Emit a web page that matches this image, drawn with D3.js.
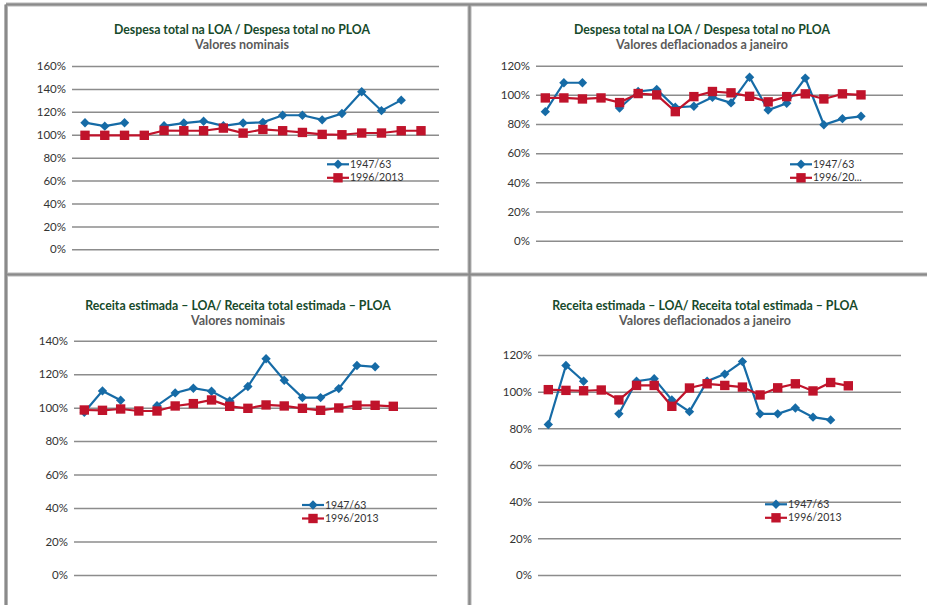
<!DOCTYPE html>
<html>
<head>
<meta charset="utf-8">
<script src="https://cdn.jsdelivr.net/npm/d3@7"></script>
<style>
  html, body { margin: 0; padding: 0; background: #fff; }
  svg { display: block; }
  text { font-family: Lato, "Open Sans", sans-serif; }
</style>
</head>
<body>
<svg id="chart" width="927" height="605"></svg>
<script>
// ---------- DATA ----------
const categories = ["1","2","3","4","5","6","7","8","9","10","11","12","13","14","15","16","17","18"];
const seriesNames = ["1947/63", "1996/2013"];

const despNom1947 = [110.5, 107.5, 110.5, null, 107.8, 110.2, 111.8, 107.8, 110.2, 110.8, 117, 117, 113, 118.5, 137.5, 121, 130.2, null];
const despNom1996 = [99.5, 99.5, 99.5, 99.5, 103.7, 103.5, 103.5, 105.8, 101.4, 104.6, 103.5, 102, 100.3, 100, 101.5, 101.5, 103.5, 103.5];

const despDef1947 = [88.5, 108.3, 108.3, null, 91, 102.3, 103.7, 91.5, 92.2, 98.4, 94.5, 112.1, 89.6, 94.2, 111.5, 79.5, 83.7, 85.3];
const despDef1996 = [97.9, 97.9, 97.2, 97.9, 94.7, 100.9, 100, 88.5, 98.8, 102.3, 101.4, 99, 95.2, 98.8, 100.7, 97.2, 100.7, 100];

const recNom1947 = [97.2, 110, 104.4, null, 101.2, 108.8, 111.6, 109.8, 104, 112.6, 129.2, 116.4, 106, 106, 111.4, 125.2, 124.4, null];
const recNom1996 = [98.6, 98.4, 99.2, 98, 98, 101, 102.4, 104.6, 100.8, 99.6, 101.6, 101, 99.6, 98.4, 99.8, 101.4, 101.4, 100.8];

const recDef1947 = [82.1, 114.3, 105.7, null, 87.9, 105.7, 107.1, 95.5, 89.1, 105.7, 109.6, 116.4, 87.9, 87.9, 91.1, 86.1, 84.6, null];
const recDef1996 = [101.1, 100.7, 100.5, 100.9, 95.5, 103.4, 103.4, 92, 102, 104.3, 103.4, 102.5, 98.2, 102.1, 104.3, 100.4, 105, 103.2];

const ticksA = [0, 20, 40, 60, 80, 100, 120, 140, 160];
const ticksB = [0, 20, 40, 60, 80, 100, 120];
const ticksC = [0, 20, 40, 60, 80, 100, 120, 140];

const titleDespesa = "Despesa total na LOA / Despesa total no PLOA";
const titleReceita = "Receita estimada \u2013 LOA/ Receita total estimada \u2013 PLOA";
const subNominal = "Valores nominais";
const subDeflac = "Valores deflacionados a janeiro";

// ---------- LAYOUT ----------
const panels = [
  { title: titleDespesa, sub: subNominal, a: despNom1947, b: despNom1996, ticks: ticksA,
    gx0: 72, gx1: 439, yTop: 66, yBot: 249.3, px0: 85, px1: 421, tcx: 242, ty: 34,
    lx: 327, ly: 164.3, legB: "1996/2013" },
  { title: titleDespesa, sub: subDeflac, a: despDef1947, b: despDef1996, ticks: ticksB,
    gx0: 536, gx1: 903, yTop: 65.7, yBot: 240.7, px0: 545.3, px1: 861, tcx: 702, ty: 34,
    lx: 790, ly: 164.3, legB: "1996/20..." },
  { title: titleReceita, sub: subNominal, a: recNom1947, b: recNom1996, ticks: ticksC,
    gx0: 74, gx1: 437, yTop: 340.7, yBot: 575, px0: 84.3, px1: 393.3, tcx: 238, ty: 310,
    lx: 302, ly: 505, legB: "1996/2013" },
  { title: titleReceita, sub: subDeflac, a: recDef1947, b: recDef1996, ticks: ticksB,
    gx0: 538, gx1: 901, yTop: 355, yBot: 575, px0: 548.3, px1: 848.3, tcx: 705, ty: 310,
    lx: 765, ly: 504.3, legB: "1996/2013" }
];

const BLUE = "#166ba6";
const RED = "#c0132b";

const svg = d3.select("#chart");

// frame
const frame = svg.append("g");
const frameLines = [
  [6, 4.5, 927, 4.5],
  [6, 4.5, 6, 605],
  [469.5, 4.5, 469.5, 605],
  [6, 274.5, 927, 274.5]
];
frameLines.forEach(l => {
  frame.append("line").attr("x1", l[0]).attr("y1", l[1]).attr("x2", l[2]).attr("y2", l[3])
    .attr("stroke", "#b5b5b5").attr("stroke-width", 4);
});
frameLines.forEach(l => {
  frame.append("line").attr("x1", l[0]).attr("y1", l[1]).attr("x2", l[2]).attr("y2", l[3])
    .attr("stroke", "#8a8a8a").attr("stroke-width", 2);
});

const diamond = d3.symbol().type(d3.symbolDiamond2).size(56);
const square = d3.symbol().type(d3.symbolSquare).size(88);

panels.forEach(p => {
  const g = svg.append("g");
  const maxT = p.ticks[p.ticks.length - 1];
  const y = d3.scaleLinear().domain([0, maxT]).range([p.yBot, p.yTop]);
  const x = d3.scalePoint().domain(categories).range([p.px0, p.px1]);

  // titles
  g.append("text").attr("x", p.tcx).attr("y", p.ty).attr("text-anchor", "middle")
    .attr("font-size", 12.3).attr("font-weight", 700).attr("fill", "#174a2b").text(p.title);
  g.append("text").attr("x", p.tcx).attr("y", p.ty + 15).attr("text-anchor", "middle")
    .attr("font-size", 12.5).attr("font-weight", 700).attr("fill", "#5a5a5a").text(p.sub);

  // y axis with gridlines
  const axis = d3.axisLeft(y).tickValues(p.ticks).tickSize(-(p.gx1 - p.gx0)).tickPadding(6)
    .tickFormat(d => d + "%");
  const ag = g.append("g").attr("transform", `translate(${p.gx0},0)`).call(axis);
  ag.select(".domain").remove();
  ag.selectAll(".tick line").attr("stroke", "#8c8c8c").attr("stroke-width", 1.5);
  ag.selectAll(".tick text").attr("font-size", 11.5).attr("fill", "#333")
    .attr("font-family", "Lato, 'Open Sans', sans-serif");

  const line = d3.line().defined(d => d.v != null).x(d => x(d.c)).y(d => y(d.v));
  const dataA = categories.map((c, i) => ({ c, v: p.a[i] }));
  const dataB = categories.map((c, i) => ({ c, v: p.b[i] }));

  g.append("path").datum(dataA).attr("d", line).attr("fill", "none")
    .attr("stroke", BLUE).attr("stroke-width", 2.2);
  g.selectAll(".mA").data(dataA.filter(d => d.v != null)).join("path")
    .attr("d", diamond).attr("transform", d => `translate(${x(d.c)},${y(d.v)})`).attr("fill", BLUE);

  g.append("path").datum(dataB).attr("d", line).attr("fill", "none")
    .attr("stroke", RED).attr("stroke-width", 2.2);
  g.selectAll(".mB").data(dataB.filter(d => d.v != null)).join("path")
    .attr("d", square).attr("transform", d => `translate(${x(d.c)},${y(d.v)})`).attr("fill", RED);

  // legend
  const lg = g.append("g").attr("transform", `translate(${p.lx},${p.ly})`);
  const items = [
    { name: seriesNames[0], color: BLUE, sym: diamond, dy: 0 },
    { name: p.legB, color: RED, sym: square, dy: 13.5 }
  ];
  items.forEach(it => {
    lg.append("line").attr("x1", 0).attr("x2", 22).attr("y1", it.dy).attr("y2", it.dy)
      .attr("stroke", it.color).attr("stroke-width", 2.2);
    lg.append("path").attr("d", it.sym).attr("transform", `translate(11,${it.dy})`).attr("fill", it.color);
    lg.append("text").attr("x", 23).attr("y", it.dy).attr("dy", "0.35em")
      .attr("font-size", 10.5).attr("fill", "#333").text(it.name);
  });
});
</script>
</body>
</html>
